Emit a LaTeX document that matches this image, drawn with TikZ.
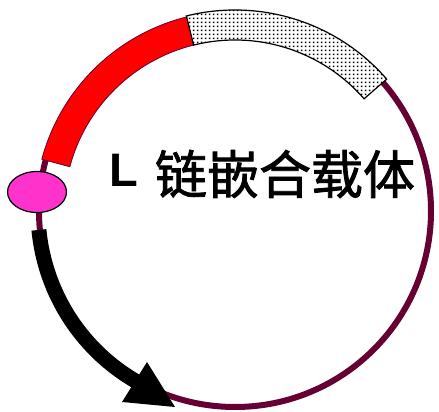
\documentclass[tikz,border=0pt]{standalone}
\usepackage{fontspec}
\setmainfont{Liberation Sans}
\newfontfamily\cjk[FakeBold=1.6]{Noto Sans CJK SC}
\usetikzlibrary{shapes.geometric,patterns.meta}
\definecolor{maroonline}{HTML}{660033}
\definecolor{pinkfill}{HTML}{FF33CC}
\tikzdeclarepattern{name=finedots, type=uncolored, bounding box={(0,0) and (4pt,4pt)}, tile size={(4pt,4pt)}, code={\fill (1.2pt,1.2pt) rectangle (2.8pt,2.8pt);}}
\tikzset{
  ring/.style={draw=maroonline, line width=6pt},
  redband/.style={fill=red, draw=maroonline, line width=0.8pt},
  dotband/.style={fill=white, postaction={pattern=finedots, pattern color=black}, draw=black, line width=1.2pt},
  shaft/.style={draw=black, line width=15pt},
  head/.style={fill=black},
  oriellipse/.style={ellipse, draw=black, line width=1.2pt, fill=pinkfill, minimum width=59pt, minimum height=41pt, inner sep=0pt},
  label/.style={inner sep=0pt, anchor=center}
}
\begin{document}
\begin{tikzpicture}[x=1pt,y=1pt]
\useasboundingbox (0,0) rectangle (439,412);
\coordinate (C) at (235,201);
% ring
\draw[ring] (C) circle[radius=196];
% red band
\path[redband] ([shift={(104:200)}]C) arc[start angle=104, end angle=165, radius=200]
  -- ([shift={(165:171)}]C) arc[start angle=165, end angle=104, radius=171] -- cycle;
% dotted band
\path[dotband] ([shift={(41:201)}]C) arc[start angle=41, end angle=104, radius=201]
  -- ([shift={(104:171)}]C) arc[start angle=104, end angle=41, radius=171] -- cycle;
% black arrow shaft
\draw[shaft] ([shift={(185.5:197)}]C) arc[start angle=185.5, end angle=243, radius=197];
% arrow head
\coordinate (h1) at (147,50);
\coordinate (h2) at (122,10);
\coordinate (tip) at (175,5);
\fill[head] (h1) -- (tip) -- (h2) -- cycle;
% ori ellipse
\node[oriellipse] (ori) at (37,220) {};
% text
\node[label, font=\bfseries\fontsize{47}{47}\selectfont] (L) at (124,242) {L};
\node[label, font=\cjk\fontsize{52}{52}\selectfont] (name) at (285,238) {链嵌合载体};
\end{tikzpicture}
\end{document}
